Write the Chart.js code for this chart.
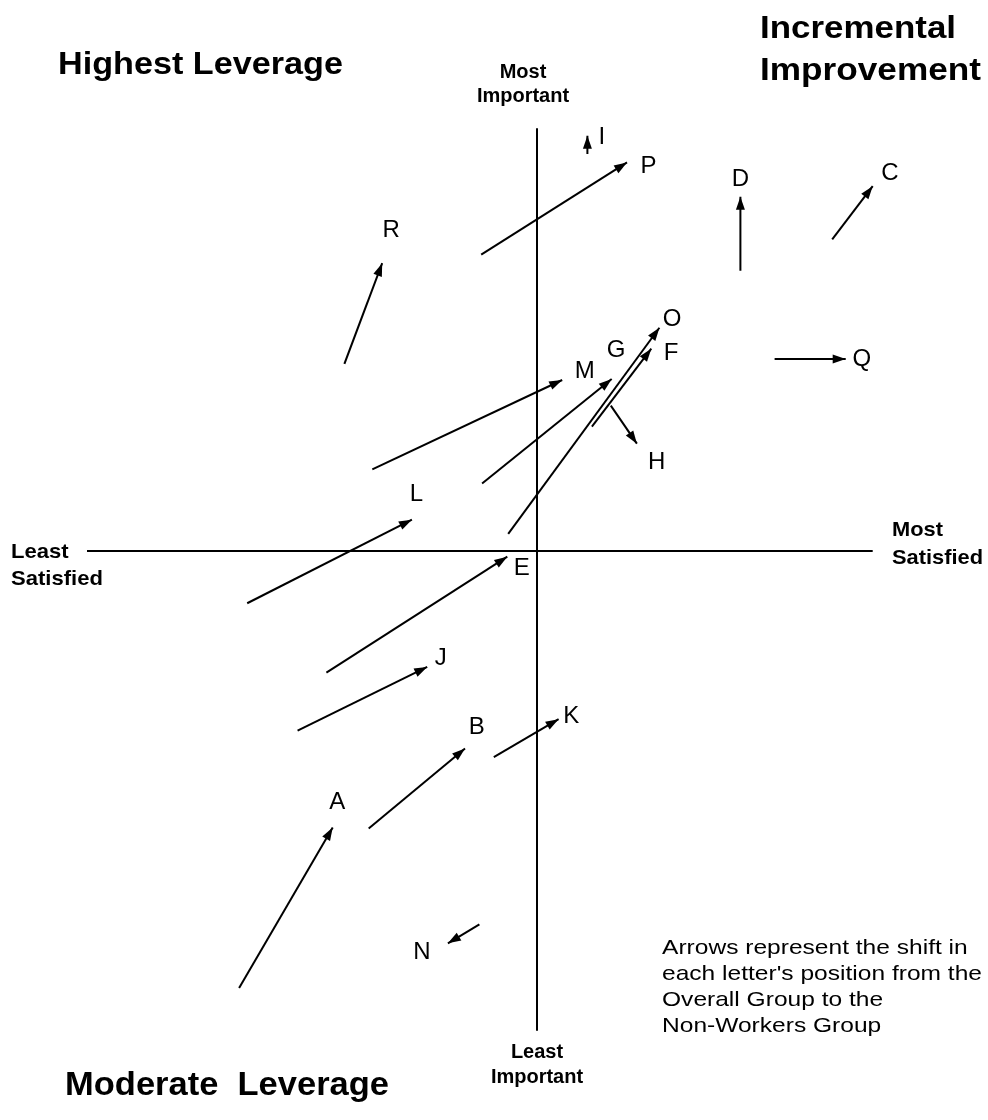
<!DOCTYPE html>
<html>
<head>
<meta charset="utf-8">
<script src="https://cdn.jsdelivr.net/npm/chart.js@4"></script>
<style>
  body { margin: 0; background: #fff; }
  canvas { display: block; }
</style>
</head>
<body>
<canvas id="myChart" width="988" height="1120"></canvas>
<script>
// letters and their shift: Overall Group (from) -> Non-Workers Group (to)
// x = satisfaction (0 = axis), y = importance (0 = axis)
const letters = ['A', 'B', 'C', 'D', 'E', 'F', 'G', 'H', 'I', 'J', 'K', 'L', 'M', 'N', 'O', 'P', 'Q', 'R'];
const fromX = [-3.31, -1.87, 3.28, 2.26, -2.34, 0.61, -0.61, 0.82, 0.56, -2.66, -0.48, -3.22, -1.83, -0.64, -0.32, -0.62, 2.64, -2.14];
const fromY = [-4.60, -2.92, 3.28, 2.95, -1.28, 1.31, 0.71, 1.53, 4.18, -1.89, -2.17, -0.55, 0.86, -3.93, 0.18, 3.12, 2.02, 1.97];
const toX = [-2.27, -0.80, 3.73, 2.26, -0.33, 1.27, 0.83, 1.11, 0.56, -1.22, 0.24, -1.39, 0.28, -0.99, 1.36, 1.00, 3.43, -1.72];
const toY = [-2.91, -2.08, 3.84, 3.73, -0.06, 2.13, 1.81, 1.13, 4.37, -1.22, -1.77, 0.33, 1.80, -4.13, 2.35, 4.09, 2.02, 3.03];
// where each letter is written
const labelX = [-2.22, -0.67, 3.92, 2.26, -0.17, 1.49, 0.88, 1.33, 0.72, -1.07, 0.38, -1.34, 0.53, -1.28, 1.50, 1.24, 3.61, -1.62];
const labelY = [-2.65, -1.86, 3.97, 3.91, -0.18, 2.08, 2.11, 0.93, 4.35, -1.13, -1.74, 0.60, 1.89, -4.23, 2.44, 4.05, 2.02, 3.37];

// quadrant axes
const axisH = [-5, 3.73];
const axisV = [-5.05, 4.45];

const noteLines = ['Arrows represent the shift in', "each letter's position from the", 'Overall Group to the', 'Non-Workers Group'];

const FONT = '"Liberation Sans", Arial, Helvetica, sans-serif';

function drawText(ctx, text, x, y, size, bold, align, width, stretch) {
  ctx.save();
  ctx.font = (bold ? 'bold ' : '') + size + 'px ' + FONT;
  ctx.textBaseline = 'alphabetic';
  ctx.textAlign = 'left';
  const w = ctx.measureText(text).width;
  const sx = width ? width / w : (stretch || 1);
  const left = align === 'center' ? x - (w * sx) / 2 : x;
  ctx.translate(left, y);
  ctx.scale(sx, 1);
  ctx.fillStyle = '#000';
  ctx.fillText(text, 0, 0);
  ctx.restore();
}

// arrowheads at the end of each shift line + letter labels
const arrowPlugin = {
  id: 'arrows',
  afterDatasetsDraw(chart) {
    const ctx = chart.ctx;
    const xs = chart.scales.x, ys = chart.scales.y;
    ctx.save();
    ctx.fillStyle = '#000';
    letters.forEach((l, i) => {
      const x0 = xs.getPixelForValue(fromX[i]), y0 = ys.getPixelForValue(fromY[i]);
      const x1 = xs.getPixelForValue(toX[i]), y1 = ys.getPixelForValue(toY[i]);
      const a = Math.atan2(y1 - y0, x1 - x0);
      const len = 13, half = 4.5;
      ctx.beginPath();
      ctx.moveTo(x1, y1);
      ctx.lineTo(x1 - len * Math.cos(a) + half * Math.sin(a), y1 - len * Math.sin(a) - half * Math.cos(a));
      ctx.lineTo(x1 - len * Math.cos(a) - half * Math.sin(a), y1 - len * Math.sin(a) + half * Math.cos(a));
      ctx.closePath();
      ctx.fill();

      ctx.font = '24px ' + FONT;
      ctx.textAlign = 'center';
      ctx.textBaseline = 'middle';
      ctx.fillText(l, xs.getPixelForValue(labelX[i]), ys.getPixelForValue(labelY[i]));
    });
    ctx.restore();

    // quadrant names and axis captions
    drawText(ctx, 'Highest Leverage', 58, 74, 32, true, 'left', 285);
    drawText(ctx, 'Incremental', 760, 38, 32, true, 'left', 196);
    drawText(ctx, 'Improvement', 760, 80, 32, true, 'left', 221);
    drawText(ctx, 'Moderate  Leverage', 65, 1095, 33, true, 'left', 324);
    drawText(ctx, 'Most', 523, 78, 20, true, 'center');
    drawText(ctx, 'Important', 523, 102, 20, true, 'center');
    drawText(ctx, 'Least', 537, 1058, 20, true, 'center');
    drawText(ctx, 'Important', 537, 1083, 20, true, 'center');
    drawText(ctx, 'Least', 11, 558, 21, true, 'left', 0, 1.05);
    drawText(ctx, 'Satisfied', 11, 585, 21, true, 'left', 0, 1.05);
    drawText(ctx, 'Most', 892, 536, 21, true, 'left', 0, 1.04);
    drawText(ctx, 'Satisfied', 892, 564, 21, true, 'left', 0, 1.04);

    // explanatory note, stretched like the source
    ctx.save();
    ctx.font = '21px ' + FONT;
    const longest = Math.max(...noteLines.map(t => ctx.measureText(t).width));
    ctx.restore();
    const noteStretch = 320 / longest;
    noteLines.forEach((t, i) => drawText(ctx, t, 662, 954 + i * 26, 21, false, 'left', 0, noteStretch));
  }
};

const datasets = letters.map((l, i) => ({
  label: l,
  data: [{ x: fromX[i], y: fromY[i] }, { x: toX[i], y: toY[i] }],
  showLine: true,
  borderColor: '#000',
  borderWidth: 2,
  pointRadius: 0
}));
datasets.push({
  label: 'satisfaction axis',
  data: [{ x: axisH[0], y: 0 }, { x: axisH[1], y: 0 }],
  showLine: true, borderColor: '#000', borderWidth: 2, pointRadius: 0
});
datasets.push({
  label: 'importance axis',
  data: [{ x: 0, y: axisV[0] }, { x: 0, y: axisV[1] }],
  showLine: true, borderColor: '#000', borderWidth: 2, pointRadius: 0
});

const ctx = document.getElementById('myChart').getContext('2d');
const chart = new Chart(ctx, {
  type: 'scatter',
  data: { datasets: datasets },
  options: {
    responsive: false,
    animation: false,
    devicePixelRatio: 1,
    layout: { padding: { left: 87, right: 1, top: 76, bottom: 46.5 } },
    plugins: { legend: { display: false }, tooltip: { enabled: false } },
    scales: {
      x: { type: 'linear', min: -5, max: 5, display: false },
      y: { type: 'linear', min: -5.5, max: 5, display: false }
    }
  },
  plugins: [arrowPlugin]
});
</script>
</body>
</html>
